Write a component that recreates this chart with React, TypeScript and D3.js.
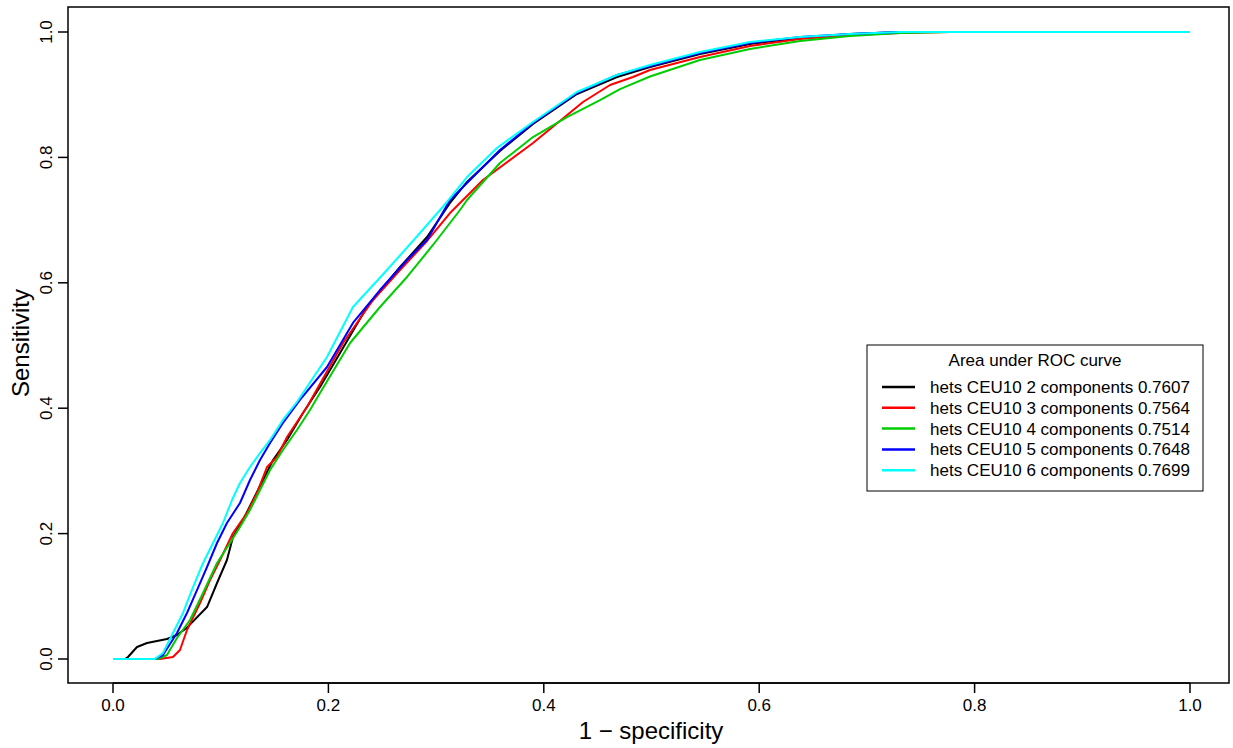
import React, { useEffect, useRef } from "react";
import * as d3 from "d3";

type Pt = [number, number];

const seriesNames = [
  "hets CEU10 2 components 0.7607",
  "hets CEU10 3 components 0.7564",
  "hets CEU10 4 components 0.7514",
  "hets CEU10 5 components 0.7648",
  "hets CEU10 6 components 0.7699",
];
const seriesColors = ["#000000", "#ff0000", "#00cd00", "#0000ff", "#00ffff"];

const comp2: Pt[] = [
  [0, 0], [0.0111, 0], [0.0139, 0.0032], [0.0223, 0.0191], [0.0316, 0.0255], [0.0501, 0.0319],
  [0.0594, 0.0383], [0.0687, 0.05], [0.0873, 0.0829], [0.0966, 0.1212], [0.1058, 0.1579],
  [0.1114, 0.1946], [0.1207, 0.2217], [0.13, 0.2536], [0.1393, 0.2855], [0.1486, 0.3174],
  [0.1616, 0.3493], [0.1764, 0.3923], [0.1922, 0.4338], [0.2108, 0.488], [0.2358, 0.5614],
  [0.2665, 0.6252], [0.2916, 0.673], [0.3129, 0.7273], [0.3287, 0.7608], [0.3593, 0.8102],
  [0.39, 0.8533], [0.4308, 0.9011], [0.468, 0.9282], [0.4986, 0.9442], [0.545, 0.9649],
  [0.5915, 0.9809], [0.6379, 0.9904], [0.6843, 0.9968], [0.7307, 1], [1, 1],
];
const comp3: Pt[] = [
  [0, 0], [0.0436, 0], [0.0557, 0.0032], [0.0622, 0.0144], [0.0687, 0.0463], [0.0808, 0.0893],
  [0.0901, 0.126], [0.0994, 0.1579], [0.1114, 0.201], [0.1244, 0.2329], [0.1337, 0.2648],
  [0.143, 0.3062], [0.1523, 0.3222], [0.1616, 0.3541], [0.1801, 0.4019], [0.2136, 0.504],
  [0.2414, 0.5726], [0.2665, 0.6204], [0.2916, 0.6667], [0.3129, 0.7113], [0.3435, 0.764],
  [0.39, 0.823], [0.4364, 0.8884], [0.4615, 0.9155], [0.4828, 0.9282], [0.4986, 0.9394],
  [0.545, 0.9601], [0.5915, 0.9777], [0.6379, 0.9888], [0.6843, 0.9952], [0.7307, 0.9984],
  [0.7772, 1], [1, 1],
];
const comp4: Pt[] = [
  [0, 0], [0.0418, 0], [0.0501, 0.0064], [0.0594, 0.0335], [0.0715, 0.0622], [0.0836, 0.1053],
  [0.0966, 0.1531], [0.1086, 0.185], [0.1179, 0.2105], [0.1272, 0.2376], [0.1365, 0.2695],
  [0.1458, 0.3014], [0.1578, 0.3333], [0.1708, 0.3652], [0.1829, 0.3971], [0.1922, 0.4242],
  [0.2201, 0.504], [0.2479, 0.5614], [0.273, 0.6093], [0.2971, 0.6603], [0.3222, 0.7161],
  [0.3287, 0.732], [0.3593, 0.7911], [0.39, 0.8325], [0.4215, 0.8644], [0.4522, 0.8915],
  [0.4708, 0.909], [0.4986, 0.929], [0.545, 0.9553], [0.5915, 0.9729], [0.6379, 0.9856],
  [0.6843, 0.9936], [0.7307, 0.9984], [0.7772, 1], [1, 1],
];
const comp5: Pt[] = [
  [0, 0], [0.039, 0], [0.0464, 0.0064], [0.0594, 0.0415], [0.0687, 0.0734], [0.078, 0.11],
  [0.0873, 0.1467], [0.0966, 0.185], [0.1058, 0.2169], [0.1179, 0.2488], [0.1272, 0.2855],
  [0.1365, 0.3174], [0.1458, 0.3445], [0.1578, 0.3764], [0.1736, 0.4131], [0.1987, 0.4657],
  [0.2228, 0.5359], [0.2479, 0.5885], [0.273, 0.6364], [0.2916, 0.6683], [0.3129, 0.7321],
  [0.3287, 0.7592], [0.3593, 0.8118], [0.39, 0.8549], [0.4308, 0.9027], [0.468, 0.9314],
  [0.4986, 0.9458], [0.545, 0.9665], [0.5915, 0.9825], [0.6379, 0.992], [0.6843, 0.9968],
  [0.7307, 1], [1, 1],
];
const comp6: Pt[] = [
  [0, 0], [0.039, 0], [0.0464, 0.0096], [0.0557, 0.0415], [0.065, 0.0734], [0.0743, 0.1148],
  [0.0836, 0.1531], [0.0929, 0.185], [0.1021, 0.2169], [0.1105, 0.2536], [0.1179, 0.2807],
  [0.1272, 0.3062], [0.1365, 0.3285], [0.1458, 0.3493], [0.1578, 0.3812], [0.1708, 0.4099],
  [0.1987, 0.4817], [0.2228, 0.5614], [0.2544, 0.6204], [0.285, 0.6794], [0.3101, 0.7289],
  [0.3287, 0.7687], [0.3565, 0.815], [0.39, 0.8565], [0.4308, 0.9043], [0.468, 0.9314],
  [0.4986, 0.9474], [0.545, 0.9681], [0.5915, 0.9841], [0.6379, 0.992], [0.6843, 0.9968],
  [0.7307, 1], [1, 1],
];
const seriesData = [comp2, comp3, comp4, comp5, comp6];

const xTicks = [0, 0.2, 0.4, 0.6, 0.8, 1.0];
const yTicks = [0, 0.2, 0.4, 0.6, 0.8, 1.0];

const W = 1233;
const H = 748;
const FONT = "'Liberation Sans', Arial, Helvetica, sans-serif";

export default function App() {
  const ref = useRef<SVGSVGElement | null>(null);

  useEffect(() => {
    const svg = d3.select(ref.current);
    svg.selectAll("*").remove();

    const box = { left: 68, right: 1229, top: 7, bottom: 683 };
    const x = d3.scaleLinear().domain([0, 1]).range([113, 1190]);
    const y = d3.scaleLinear().domain([0, 1]).range([659, 32]);

    const line = d3
      .line<Pt>()
      .x((d) => x(d[0]))
      .y((d) => y(d[1]));
    seriesData.forEach((s, i) => {
      svg
        .append("path")
        .attr("d", line(s) as string)
        .attr("fill", "none")
        .attr("stroke", seriesColors[i])
        .attr("stroke-width", 2)
        .attr("stroke-linejoin", "round");
    });

    svg
      .append("rect")
      .attr("x", box.left)
      .attr("y", box.top)
      .attr("width", box.right - box.left)
      .attr("height", box.bottom - box.top)
      .attr("fill", "none")
      .attr("stroke", "#000")
      .attr("stroke-width", 1.5);

    const gx = svg.append("g");
    gx.append("line")
      .attr("x1", x(0))
      .attr("x2", x(1))
      .attr("y1", box.bottom)
      .attr("y2", box.bottom)
      .attr("stroke", "#000")
      .attr("stroke-width", 1.5);
    xTicks.forEach((t) => {
      gx.append("line")
        .attr("x1", x(t))
        .attr("x2", x(t))
        .attr("y1", box.bottom)
        .attr("y2", box.bottom + 10)
        .attr("stroke", "#000")
        .attr("stroke-width", 1.5);
      gx.append("text")
        .attr("x", x(t))
        .attr("y", 711)
        .attr("text-anchor", "middle")
        .attr("font-family", FONT)
        .attr("font-size", 17)
        .text(d3.format(".1f")(t));
    });

    const gy = svg.append("g");
    yTicks.forEach((t) => {
      gy.append("line")
        .attr("x1", box.left - 10)
        .attr("x2", box.left)
        .attr("y1", y(t))
        .attr("y2", y(t))
        .attr("stroke", "#000")
        .attr("stroke-width", 1.5);
      gy.append("text")
        .attr("transform", `translate(52,${y(t)}) rotate(-90)`)
        .attr("text-anchor", "middle")
        .attr("font-family", FONT)
        .attr("font-size", 17)
        .text(d3.format(".1f")(t));
    });

    svg
      .append("text")
      .attr("x", 651)
      .attr("y", 739)
      .attr("text-anchor", "middle")
      .attr("font-family", FONT)
      .attr("font-size", 24)
      .text("1 \u2212 specificity");
    svg
      .append("text")
      .attr("transform", `translate(29,343) rotate(-90)`)
      .attr("text-anchor", "middle")
      .attr("font-family", FONT)
      .attr("font-size", 24)
      .text("Sensitivity");

    const lg = svg.append("g");
    lg.append("rect")
      .attr("x", 867)
      .attr("y", 345)
      .attr("width", 336)
      .attr("height", 146)
      .attr("fill", "#fff")
      .attr("stroke", "#000")
      .attr("stroke-width", 1);
    lg.append("text")
      .attr("x", 1035)
      .attr("y", 366)
      .attr("text-anchor", "middle")
      .attr("font-family", FONT)
      .attr("font-size", 17)
      .text("Area under ROC curve");
    seriesNames.forEach((name, i) => {
      const cy = 387 + i * 20.8;
      lg.append("line")
        .attr("x1", 882)
        .attr("x2", 915)
        .attr("y1", cy)
        .attr("y2", cy)
        .attr("stroke", seriesColors[i])
        .attr("stroke-width", 2.5);
      lg.append("text")
        .attr("x", 930)
        .attr("y", cy + 6)
        .attr("font-family", FONT)
        .attr("font-size", 17)
        .text(name);
    });
  }, []);

  return (
    <svg
      ref={ref}
      width={W}
      height={H}
      style={{ position: "absolute", left: 0, top: 0, background: "#fff" }}
    />
  );
}
